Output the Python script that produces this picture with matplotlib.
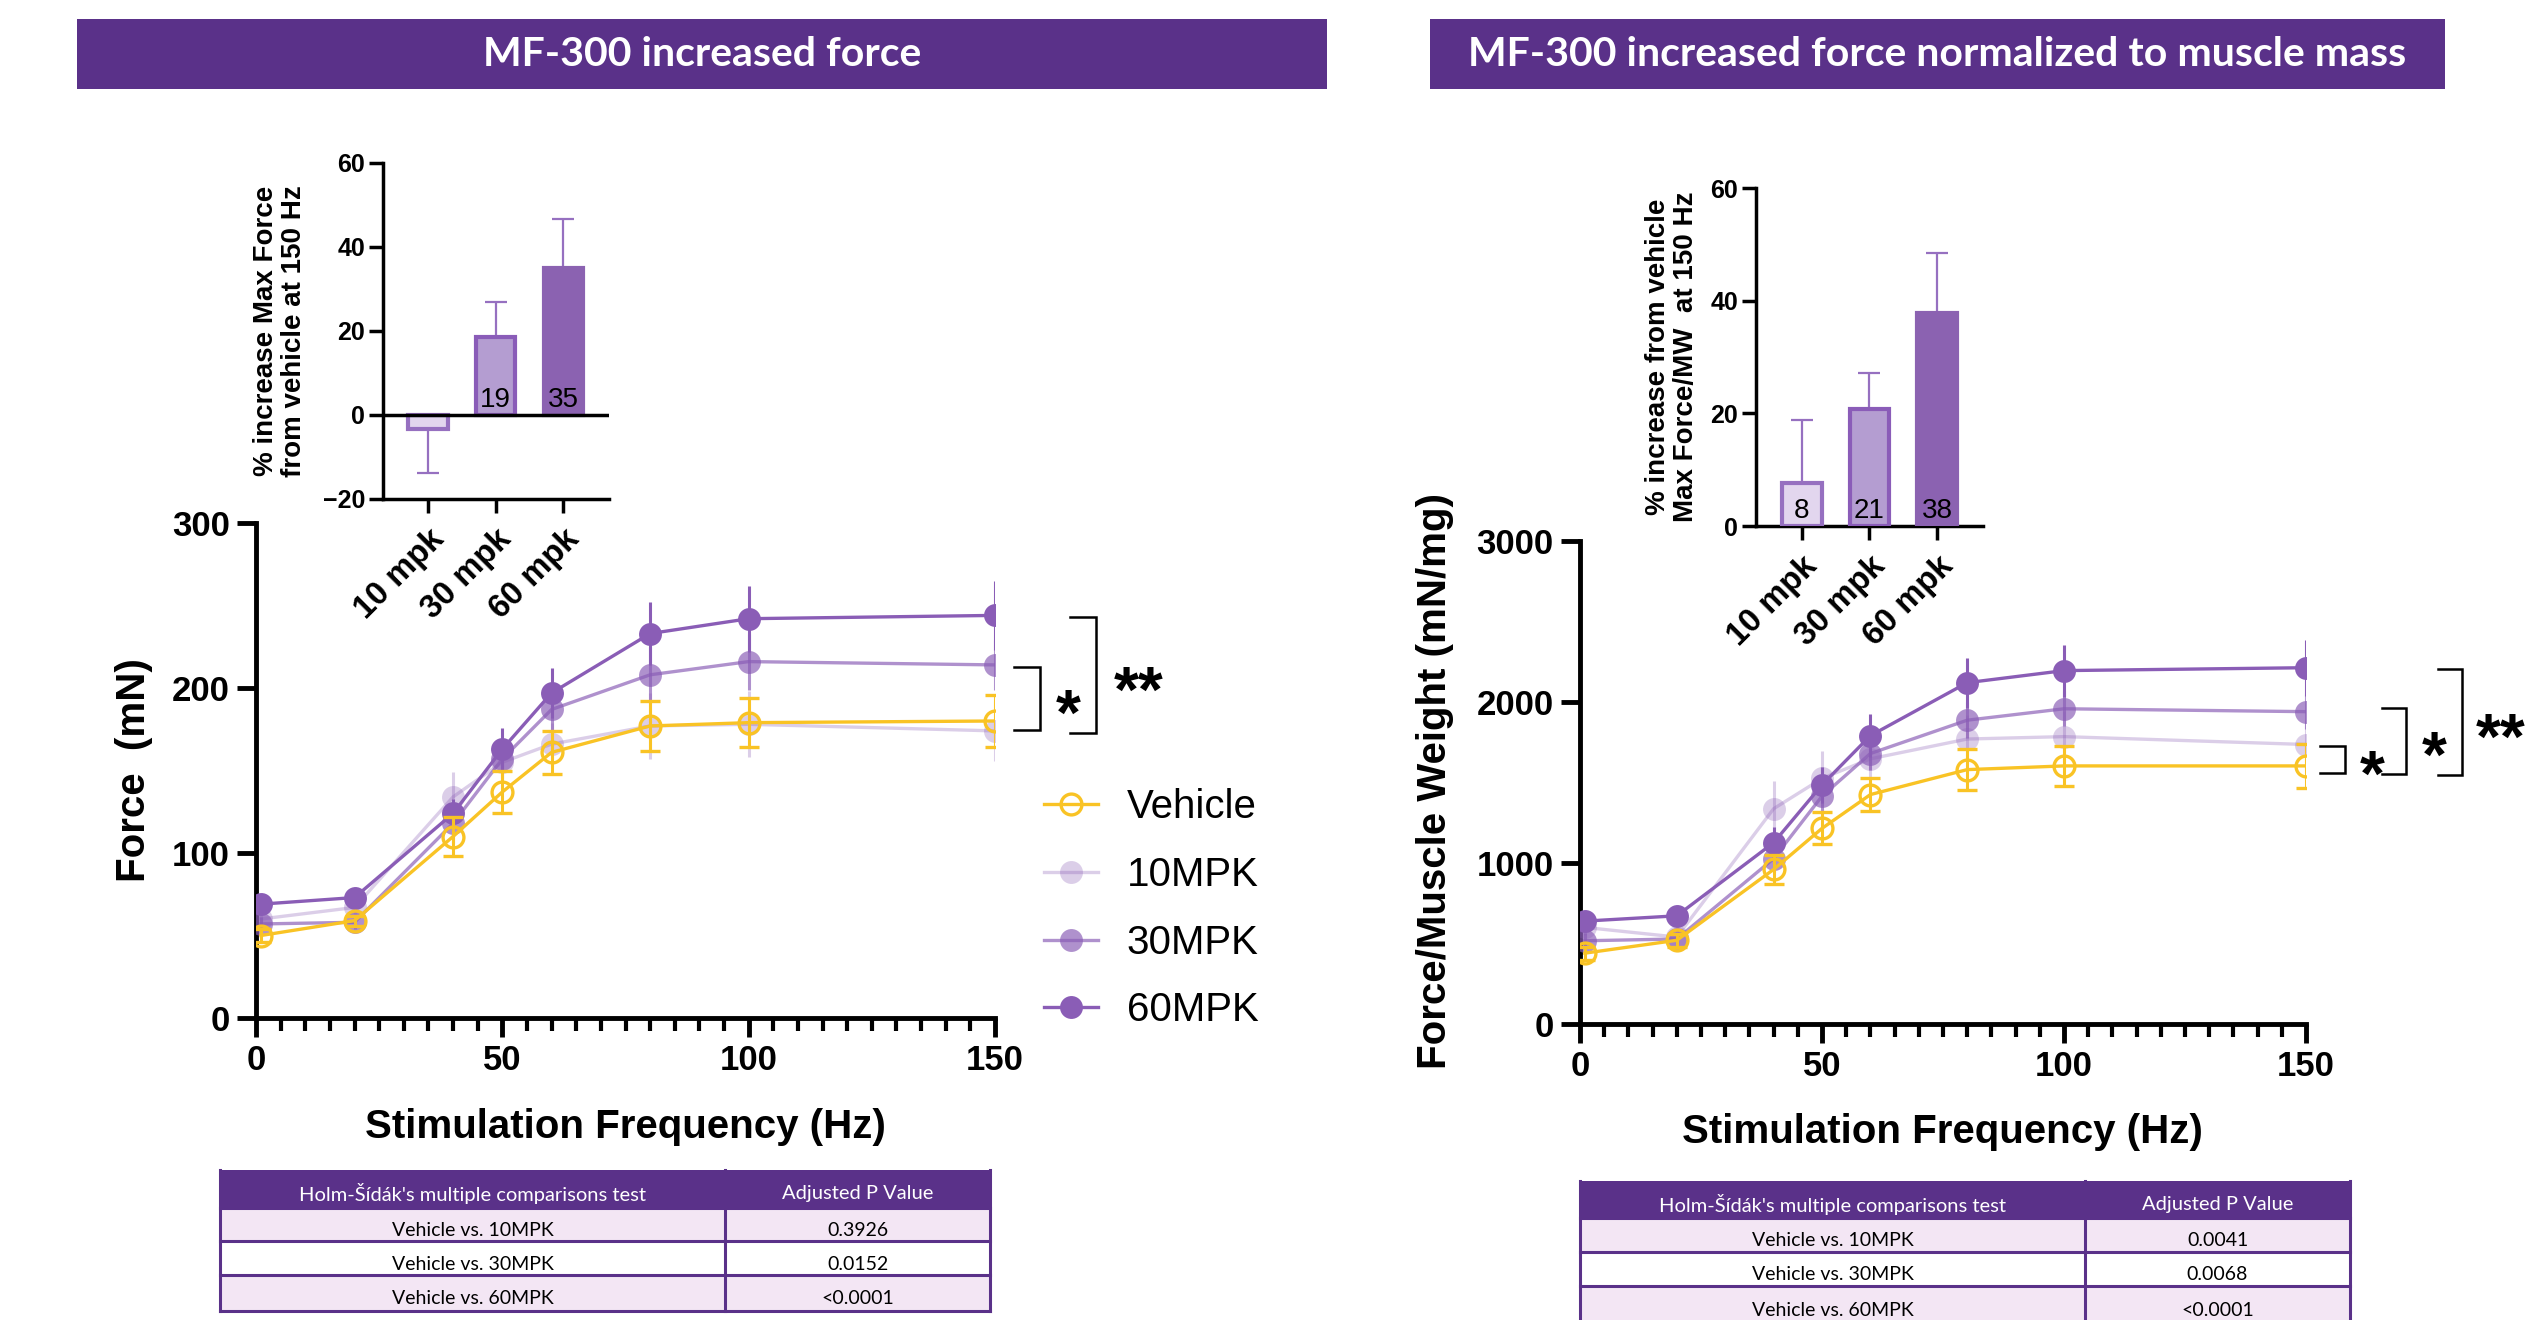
import matplotlib
matplotlib.use('Agg')
import matplotlib.pyplot as plt
from matplotlib.patches import Rectangle
from matplotlib.ticker import MultipleLocator

plt.rcParams['font.family'] = ['Liberation Sans', 'DejaVu Sans']

W, H, DPI = 2525, 1320, 100

# ---------------- data ----------------
freq = [1, 20, 40, 50, 60, 80, 100, 150]
series_names = ["Vehicle", "10MPK", "30MPK", "60MPK"]

force_vehicle = [50, 59, 110, 137, 161, 177, 179, 180]
force_vehicle_err = [4, 3, 12, 13, 13, 15, 15, 16]
force_10 = [60, 67, 134, 155, 166, 177, 178, 174]
force_10_err = [4, 4, 15, 12, 13, 20, 20, 18]
force_30 = [57, 58, 118, 157, 187, 208, 216, 214]
force_30_err = [4, 4, 12, 12, 15, 17, 17, 15]
force_60 = [69, 73, 124, 163, 197, 233, 242, 244]
force_60_err = [4, 6, 9, 13, 15, 19, 20, 21]

norm_vehicle = [440, 520, 960, 1215, 1425, 1580, 1603, 1603]
norm_vehicle_err = [40, 40, 90, 100, 100, 128, 125, 136]
norm_10 = [600, 540, 1337, 1525, 1647, 1770, 1785, 1736]
norm_10_err = [50, 40, 170, 170, 110, 150, 160, 150]
norm_30 = [517, 528, 1027, 1415, 1680, 1887, 1958, 1940]
norm_30_err = [50, 40, 80, 110, 100, 110, 110, 110]
norm_60 = [639, 672, 1126, 1485, 1791, 2120, 2195, 2213]
norm_60_err = [60, 60, 100, 110, 133, 155, 162, 175]

dose_labels = ["10 mpk", "30 mpk", "60 mpk"]
pct_force = [-3.4, 18.5, 35.0]
pct_force_err = [10.3, 8.3, 11.6]
pct_force_text = ["", "19", "35"]
pct_norm = [7.7, 20.8, 37.8]
pct_norm_err = [11.2, 6.3, 10.7]
pct_norm_text = ["8", "21", "38"]

title_left = "MF-300 increased force"
title_right = "MF-300 increased force normalized to muscle mass"
table_header = ["Holm-Šídák's multiple comparisons test", "Adjusted P Value"]
table_rows = ["Vehicle vs. 10MPK", "Vehicle vs. 30MPK", "Vehicle vs. 60MPK"]
force_p = ["0.3926", "0.0152", "<0.0001"]
norm_p = ["0.0041", "0.0068", "<0.0001"]

# ---------------- styles ----------------
PURPLE_DARK = '#5a3189'
LAV = '#f3e6f4'
YELLOW = '#F9C325'
pr, pg, pb = 0x8a / 255, 0x5d / 255, 0xb6 / 255
colors = [YELLOW, (pr, pg, pb, 0.3), (pr, pg, pb, 0.68), (pr, pg, pb, 1.0)]
bar_fill = ['#e2d6ee', '#b49dd1', '#8b62b1']
bar_edge = ['#9670c0', '#8a5cb8', '#8b62b1']

fig = plt.figure(figsize=(W / DPI, H / DPI), dpi=DPI)
fig.patch.set_facecolor('white')


def box(l, t, r, b):
    return [l / W, 1 - b / H, (r - l) / W, (b - t) / H]


def fx(x):
    return x / W


def fy(y):
    return 1 - y / H


bg = fig.add_axes([0, 0, 1, 1])
bg.set_xlim(0, W)
bg.set_ylim(H, 0)
bg.axis('off')

TFONT = ['Lato', 'DejaVu Sans']


def title_bar(l, t, r, b, text):
    bg.add_patch(Rectangle((l, t), r - l, b - t, facecolor=PURPLE_DARK, edgecolor='none'))
    bg.text((l + r) / 2, (t + b) / 2 + 1, text, color='white', fontsize=29.5, fontweight='bold',
            family=TFONT, ha='center', va='center')


title_bar(77, 19, 1327, 89, title_left)
title_bar(1430, 19, 2445, 89, title_right)


def draw_table(x0, x1, xdiv, ys, values):
    bg.add_patch(Rectangle((x0, ys[0]), x1 - x0, ys[1] - ys[0], facecolor=PURPLE_DARK, edgecolor='none'))
    fills = [LAV, 'white', LAV]
    for i in range(3):
        bg.add_patch(Rectangle((x0, ys[i + 1]), x1 - x0, ys[i + 2] - ys[i + 1],
                               facecolor=fills[i], edgecolor='none'))
    for y in ys[1:]:
        bg.plot([x0, x1], [y, y], color=PURPLE_DARK, lw=2.2)
    bg.plot([x0, x0], [ys[0], ys[-1]], color=PURPLE_DARK, lw=2.2)
    bg.plot([x1, x1], [ys[0], ys[-1]], color=PURPLE_DARK, lw=2.2)
    bg.plot([xdiv, xdiv], [ys[0], ys[-1]], color=PURPLE_DARK, lw=2.2)
    c1 = (x0 + xdiv) / 2
    c2 = (xdiv + x1) / 2
    ym = (ys[0] + ys[1]) / 2 + 5
    bg.text(c1, ym, table_header[0], color='white', fontsize=14.5, family=TFONT, ha='center', va='center')
    bg.text(c2, ym, table_header[1], color='white', fontsize=14.5, family=TFONT, ha='center', va='center')
    for i in range(3):
        ym = (ys[i + 1] + ys[i + 2]) / 2 + 6
        bg.text(c1, ym, table_rows[i], color='black', fontsize=14, family=TFONT, ha='center', va='center')
        bg.text(c2, ym, values[i], color='black', fontsize=14, family=TFONT, ha='center', va='center')


draw_table(220, 990, 725, [1170, 1208, 1241, 1275, 1311], force_p)
draw_table(1580, 2350, 2085, [1181, 1218, 1252, 1286, 1322], norm_p)


def draw_main(ax, series, errs, ymax, ystep):
    handles = {}
    for i in [3, 2, 1, 0]:
        c = colors[i]
        if i == 0:
            eb = ax.errorbar(freq, series[i], yerr=errs[i], color=c, ecolor=c, marker='o', ms=15,
                             mfc='none', mec=c, mew=2.4, lw=2.4, elinewidth=2.2, capsize=7.5, capthick=2.2,
                             zorder=10)
        else:
            eb = ax.errorbar(freq, series[i], yerr=errs[i], color=c, ecolor=c, marker='o', ms=16.5,
                             mfc=c, mec='none', mew=0, lw=2.4, elinewidth=2.2, capsize=7.5, capthick=2.2,
                             zorder=3 + i)
        handles[i] = eb.lines[0]
    ax.set_xlim(0, 150)
    ax.set_ylim(0, ymax)
    ax.xaxis.set_major_locator(MultipleLocator(50))
    ax.xaxis.set_minor_locator(MultipleLocator(5))
    ax.yaxis.set_major_locator(MultipleLocator(ystep))
    ax.tick_params(axis='both', which='major', length=14, width=3.5, labelsize=25, pad=5)
    ax.tick_params(axis='x', which='minor', length=9, width=3)
    for lab in ax.get_xticklabels() + ax.get_yticklabels():
        lab.set_fontweight('bold')
    for s in ['top', 'right']:
        ax.spines[s].set_visible(False)
    for s in ['left', 'bottom']:
        ax.spines[s].set_linewidth(3.5)
    ax.set_facecolor('none')
    return handles


def bracket(ax, x1, x2, ytop, ybot):
    ax.plot([x1, x2, x2, x1], [ytop, ytop, ybot, ybot], color='black', lw=1.8,
            clip_on=False, solid_joinstyle='miter')


def star(ax, x, y, s, fs=46):
    ax.annotate(s, xy=(x, y), xytext=(0, -0.58 * fs), textcoords='offset points',
                ha='center', va='baseline', fontsize=fs, fontweight='bold', annotation_clip=False)


# ---------------- left main ----------------
axL = fig.add_axes(box(256, 523, 995, 1018))
hL = draw_main(axL, [force_vehicle, force_10, force_30, force_60],
               [force_vehicle_err, force_10_err, force_30_err, force_60_err], 300, 100)
bracket(axL, 153.9, 159.1, 213, 174.5)
bracket(axL, 165.2, 170.5, 243, 173)
star(axL, 164.8, 194, '*')
star(axL, 179.2, 208, '**')
fig.text(fx(134), fy(770), "Force  (mN)", rotation=90, ha='center', va='center',
         fontsize=29, fontweight='bold')
fig.text(fx(625), fy(1127), "Stimulation Frequency (Hz)", ha='center', va='center',
         fontsize=29, fontweight='bold')
leg = axL.legend([hL[i] for i in range(4)], series_names, loc='upper left',
                 bbox_to_anchor=(fx(1044), fy(788)), bbox_transform=fig.transFigure,
                 frameon=False, fontsize=29, handlelength=1.33, handletextpad=0.72,
                 labelspacing=0.74, borderpad=0, borderaxespad=0)

# ---------------- right main ----------------
axR = fig.add_axes(box(1580, 541, 2306, 1024))
draw_main(axR, [norm_vehicle, norm_10, norm_30, norm_60],
          [norm_vehicle_err, norm_10_err, norm_30_err, norm_60_err], 3000, 1000)
bracket(axR, 152.9, 158.1, 1729, 1562)
bracket(axR, 165.7, 170.7, 1961, 1551)
bracket(axR, 177.3, 182.2, 2203, 1549)
star(axR, 163.6, 1648, '*')
star(axR, 176.4, 1766, '*')
star(axR, 190.3, 1877, '**')
fig.text(fx(1435), fy(781), "Force/Muscle Weight (mN/mg)", rotation=90, ha='center', va='center',
         fontsize=29, fontweight='bold')
fig.text(fx(1942), fy(1132), "Stimulation Frequency (Hz)", ha='center', va='center',
         fontsize=29, fontweight='bold')


# ---------------- insets ----------------
def draw_inset(ax, vals, errs, texts, ymin, ymax, xmin, xmax):
    x = list(range(len(vals)))
    ax.bar(x, vals, width=0.58, color=bar_fill, edgecolor=bar_edge, linewidth=3, zorder=3)
    lower = [e if v < 0 else 0 for v, e in zip(vals, errs)]
    upper = [e if v >= 0 else 0 for v, e in zip(vals, errs)]
    ax.errorbar(x, vals, yerr=[lower, upper], fmt='none', ecolor='#9670c0', elinewidth=1.6,
                capsize=8, capthick=1.6, zorder=2)
    for xi, t in zip(x, texts):
        if t:
            ax.annotate(t, xy=(xi, 0), xytext=(0, 6), textcoords='offset points', ha='center',
                        va='baseline', fontsize=20, zorder=5)
    ax.set_ylim(ymin, ymax)
    ax.set_xlim(xmin, xmax)
    ax.set_yticks(list(range(ymin, ymax + 1, 20)))
    ax.set_xticks(x)
    ax.set_xticklabels(dose_labels, rotation=45, ha='right', rotation_mode='anchor')
    ax.tick_params(axis='both', length=10, width=2.5, pad=3)
    ax.tick_params(axis='y', labelsize=18)
    ax.tick_params(axis='x', labelsize=23.5, pad=8)
    for lab in ax.get_xticklabels() + ax.get_yticklabels():
        lab.set_fontweight('bold')
    for s in ['top', 'right']:
        ax.spines[s].set_visible(False)
    for s in ['left', 'bottom']:
        ax.spines[s].set_linewidth(2.5)
    if ymin < 0:
        ax.axhline(0, color='black', lw=2.5, zorder=4)
    ax.set_facecolor('none')


axIL = fig.add_axes(box(383, 163, 609, 499))
draw_inset(axIL, pct_force, pct_force_err, pct_force_text, -20, 60, -0.667, 2.68)
fig.text(fx(280), fy(331), "% increase Max Force\nfrom vehicle at 150 Hz", rotation=90,
         ha='center', va='center', fontsize=20, fontweight='bold', linespacing=1.1)

axIR = fig.add_axes(box(1756, 188, 1983, 526))
draw_inset(axIR, pct_norm, pct_norm_err, pct_norm_text, 0, 60, -0.68, 2.68)
fig.text(fx(1672), fy(357), "% increase from vehicle\nMax Force/MW  at 150 Hz", rotation=90,
         ha='center', va='center', fontsize=20, fontweight='bold', linespacing=1.1)

fig.savefig('out.png', dpi=DPI, facecolor='white')
